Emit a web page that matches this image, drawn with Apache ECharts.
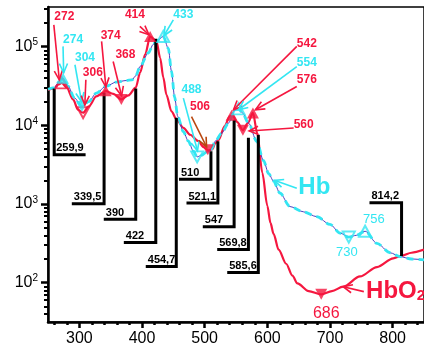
<!DOCTYPE html>
<html>
<head>
<meta charset="utf-8">
<script src="https://cdn.jsdelivr.net/npm/echarts@6/dist/echarts.min.js"></script>
<style>
  html, body { margin: 0; padding: 0; background: #fff; }
  #chart { width: 424px; height: 350px; }
</style>
</head>
<body>
<div id="chart"></div>
<script>
// spectra: wavelength (nm) and extinction
const hbo2Nm = [250, 260, 266, 272, 280, 290, 298, 306, 315, 327, 339, 342, 354, 367, 378, 390, 397, 405, 413, 423,
  429, 434, 439, 447, 455, 466, 477, 490, 498, 506, 512, 517, 522, 532, 540, 544, 552, 561, 569, 577,
  584, 592, 600, 605, 610, 618, 630, 640, 648, 666, 686, 703, 721, 748, 775, 801, 814, 830, 850];
const hbo2Eps = [28200, 29500, 33100, 34700, 30200, 21400, 15800, 14500, 17400, 23400, 26300, 27500, 25100, 21400, 24000, 30200, 46800, 79400, 135000, 117500,
  72400, 40700, 24500, 15100, 12000, 9300, 7600, 6300, 5300, 4800, 4950, 5900, 6500, 9800, 13000, 13500, 11000, 8700, 10700, 14400,
  7900, 2500, 950, 575, 417, 263, 174, 123, 98, 78, 71, 78, 89, 120, 158, 204, 219, 240, 263];

const hbNm = [250, 260, 268, 274, 282, 292, 304, 315, 327, 343, 359, 375, 384, 390, 397, 410, 418, 423, 434, 442,
  447, 452, 457, 466, 474, 482, 488, 495, 503, 510, 517, 527, 538, 548, 554, 560, 570, 583, 594, 602,
  610, 620, 636, 658, 679, 700, 716, 730, 742, 756, 775, 796, 812, 830, 850];
const hbEps = [28800, 30200, 36300, 39800, 31600, 22400, 17400, 20000, 25700, 31600, 35500, 37200, 38000, 42700, 56200, 83200, 107000, 117500, 135000, 95500,
  49000, 23000, 13000, 8300, 6300, 4700, 3980, 4170, 4570, 4900, 6300, 7940, 10700, 15500, 16200, 14500, 10700, 6300, 3550, 2450,
  1950, 1380, 930, 795, 690, 550, 427, 380, 400, 451, 316, 240, 214, 200, 195];

// extrema markers [nm, value]
const hbo2Max = [[342, 27500], [413, 135000], [543, 13500], [577, 14400]];
const hbo2Min = [[367, 21400], [505, 4900], [561, 8700], [686, 71]];
const hbo2OpenMax = [[272, 34700]];
const hbo2OpenMin = [[306, 14500]];
const hbMax = [[274, 39800]];
const hbMin = [[304, 17400]];
const hbOpenMax = [[434, 135000], [554, 16200], [756, 451]];
const hbOpenMin = [[488, 3980], [730, 380]];

// isosbestic points
const isoWl = [259.9, 339.5, 390, 422, 454.7, 510, 521.1, 547, 569.8, 585.6, 814.2];
const isoText = ['259,9', '339,5', '390', '422', '454,7', '510', '521,1', '547', '569,8', '585,6', '814,2'];

// tick values
const xLabels = [300, 400, 500, 600, 700, 800];
const yLabels = [100, 1000, 10000, 100000];

// ---- layout of the annotations (data coordinates) ----
const isoTop = [29500, 26000, 29500, 126000, 12500, 4700, 6300, 11800, 6950, 7600, 218];
const isoBottom = [4240, 1010, 640, 324, 161, 2060, 1030, 515, 264, 135, 1040];
const isoEnd = [310, 288, 339, 371, 406, 459, 471, 497, 520, 536, 763];

const RED = '#f5173f';
const CYAN = '#33e6f2';
const BROWN = '#b8460e';

// [text, text colour, arrow colour, labelX, labelY, startX, startY, tipX, tipY]
const arrowNotes = [
  ['272', RED, RED, 276, 240000, 259.3, 190000, 268, 38000],
  ['274', CYAN, CYAN, 290, 123000, 274, 101000, 275, 46700],
  ['304', CYAN, CYAN, 309, 71800, 293, 59000, 303.5, 20000],
  ['306', RED, RED, 321.6, 46700, 310.4, 38000, 308.8, 18200],
  ['374', RED, RED, 350, 138000, 335.5, 117000, 342.3, 30900],
  ['368', RED, RED, 373.5, 79000, 354, 65000, 367.4, 23800],
  ['414', RED, RED, 388.7, 256000, 396.6, 181000, 411, 142000],
  ['433', CYAN, CYAN, 466, 255000, 450, 219000, 435, 138000],
  ['488', CYAN, CYAN, 479, 28400, 466, 22200, 488.5, 4750],
  ['506', RED, BROWN, 492.5, 17400, 479, 12900, 503, 5350],
  ['542', RED, RED, 663, 109000, 647, 101000, 546, 15800],
  ['554', CYAN, CYAN, 663, 63000, 647, 56000, 554, 15800],
  ['576', RED, RED, 663, 38000, 647, 31200, 581, 15800],
  ['560', RED, RED, 658, 10200, 642, 9250, 571, 8500]
];
// [text, colour, x, y, font]
const plainNotes = [
  ['686', RED, 694, 41, '500 16px "Liberation Sans"'],
  ['730', CYAN, 727, 243, '13px "Liberation Sans"'],
  ['756', CYAN, 770, 631, '13px "Liberation Sans"']
];

const FONT = '"Liberation Sans", Arial, sans-serif';

function arrowHead(s, t, len, color) {
  const ang = Math.atan2(t[1] - s[1], t[0] - s[0]);
  const a1 = ang + Math.PI - 0.42;
  const a2 = ang + Math.PI + 0.42;
  return {
    type: 'polyline',
    shape: { points: [[t[0] + len * Math.cos(a1), t[1] + len * Math.sin(a1)], t, [t[0] + len * Math.cos(a2), t[1] + len * Math.sin(a2)]] },
    style: { stroke: color, lineWidth: 1.6, fill: null }
  };
}

function arrow(s, t, color) {
  return [
    { type: 'line', shape: { x1: s[0], y1: s[1], x2: t[0], y2: t[1] }, style: { stroke: color, lineWidth: 1.6 } },
    arrowHead(s, t, 10, color)
  ];
}

function pairs(xs, ys) {
  return xs.map((x, i) => [x, ys[i]]);
}

function marks(data, color, rotate, hollow) {
  return {
    type: 'scatter',
    data: data,
    symbol: 'triangle',
    symbolSize: [12, 11],
    symbolRotate: rotate,
    itemStyle: hollow
      ? { color: 'rgba(255,255,255,0)', borderColor: color, borderWidth: 2 }
      : { color: color },
    z: 5
  };
}

const chart = echarts.init(document.getElementById('chart'));

const yMinor = [];
[10, 100, 1000, 10000, 100000].forEach(function (d) {
  for (let k = 2; k <= 9; k++) {
    if (d * k > 31.6 && d * k < 320000) yMinor.push(d * k);
  }
});
const xMinor = [];
for (let v = 260; v <= 840; v += 20) {
  if (v % 100 !== 0) xMinor.push(v);
}

chart.setOption({
  animation: false,
  backgroundColor: '#fff',
  grid: { left: 48, right: 0, top: 7, bottom: 28, show: true, borderColor: '#000', borderWidth: 1.5 },
  xAxis: [{
    type: 'value', min: 250, max: 850,
    splitLine: { show: false },
    axisLine: { lineStyle: { color: '#000', width: 2.5 } },
    axisTick: { customValues: xLabels, length: 6, lineStyle: { color: '#000', width: 2.5 } },
    axisLabel: { customValues: xLabels, color: '#000', fontSize: 16, fontFamily: FONT, margin: 9 }
  }, {
    type: 'value', min: 250, max: 850, position: 'bottom',
    splitLine: { show: false },
    axisLine: { show: false },
    axisTick: { customValues: xMinor, length: 3, lineStyle: { color: '#000', width: 2.5 } },
    axisLabel: { show: false }
  }],
  yAxis: [{
    type: 'log', min: 31.62, max: 320000,
    splitLine: { show: false },
    axisLine: { lineStyle: { color: '#000', width: 2.5 } },
    axisTick: { customValues: yLabels, length: 7, lineStyle: { color: '#000', width: 2.5 } },
    axisLabel: {
      customValues: yLabels, margin: 10,
      formatter: function (v) {
        const e = Math.round(Math.log10(v));
        return '{n|10}{s|' + e + '}';
      },
      rich: {
        n: { fontSize: 16, fontFamily: FONT, color: '#000', lineHeight: 18 },
        s: { fontSize: 10, fontFamily: FONT, color: '#000', verticalAlign: 'top', lineHeight: 10 }
      }
    }
  }, {
    type: 'log', min: 31.62, max: 320000, position: 'left',
    splitLine: { show: false },
    axisLine: { show: false },
    axisTick: { customValues: yMinor, length: 4, lineStyle: { color: '#000', width: 2 } },
    axisLabel: { show: false }
  }],
  series: [
    {
      name: 'HbO2', type: 'line', data: pairs(hbo2Nm, hbo2Eps),
      smooth: 0.3, smoothMonotone: 'x', showSymbol: false,
      lineStyle: { color: RED, width: 2.2 }, z: 2
    },
    {
      name: 'Hb-core', type: 'line', data: pairs(hbNm, hbEps),
      smooth: 0.3, smoothMonotone: 'x', showSymbol: false,
      lineStyle: { color: '#4a3fc0', width: 1 }, z: 3
    },
    {
      name: 'Hb', type: 'line', data: pairs(hbNm, hbEps),
      smooth: 0.3, smoothMonotone: 'x', showSymbol: false,
      lineStyle: { color: CYAN, width: 2.8, type: [7, 5] }, z: 3
    },
    {
      type: 'custom', z: 4,
      data: isoWl.map((w, i) => [w, isoTop[i]]),
      renderItem: function (params, api) {
        const i = params.dataIndex;
        const a = api.coord([isoWl[i], isoTop[i]]);
        const b = api.coord([isoWl[i], isoBottom[i]]);
        const c = api.coord([isoEnd[i], isoBottom[i]]);
        const left = Math.min(b[0], c[0]);
        return {
          type: 'group',
          children: [
            { type: 'polyline', shape: { points: [a, b, c] }, style: { stroke: '#000', lineWidth: 3, fill: null } },
            { type: 'text', style: { text: isoText[i], x: left + 2, y: b[1] - 1, align: 'left', verticalAlign: 'bottom',
              font: 'bold 11px ' + FONT, fill: '#000' } }
          ]
        };
      }
    },
    marks(hbo2Max, RED, 0, false),
    marks(hbo2Min, RED, 180, false),
    marks(hbo2OpenMax, RED, 0, true),
    marks(hbo2OpenMin, RED, 180, true),
    marks(hbMax, CYAN, 0, false),
    marks(hbMin, CYAN, 180, false),
    marks(hbOpenMax, CYAN, 0, true),
    marks(hbOpenMin, CYAN, 180, true),
    {
      type: 'custom', z: 6,
      data: arrowNotes.map(n => [n[3], n[4]]),
      renderItem: function (params, api) {
        const n = arrowNotes[params.dataIndex];
        const p = api.coord([n[3], n[4]]);
        const s = api.coord([n[5], n[6]]);
        const t = api.coord([n[7], n[8]]);
        return {
          type: 'group',
          children: arrow(s, t, n[2]).concat([{
            type: 'text',
            style: { text: n[0], x: p[0], y: p[1], align: 'center', verticalAlign: 'middle', font: 'bold 12px ' + FONT, fill: n[1] }
          }])
        };
      }
    },
    {
      type: 'custom', z: 6,
      data: plainNotes.map(n => [n[2], n[3]]),
      renderItem: function (params, api) {
        const n = plainNotes[params.dataIndex];
        const p = api.coord([n[2], n[3]]);
        return {
          type: 'text',
          style: { text: n[0], x: p[0], y: p[1], align: 'center', verticalAlign: 'middle', font: n[4], fill: n[1] }
        };
      }
    },
    {
      // curve names
      type: 'custom', z: 6,
      data: [[675, 1610], [756, 78]],
      renderItem: function (params, api) {
        if (params.dataIndex === 0) {
          const p = api.coord([675, 1610]);
          return {
            type: 'group',
            children: arrow(api.coord([647, 1590]), api.coord([611, 2000]), CYAN).concat([{
              type: 'text',
              style: { text: 'Hb', x: p[0], y: p[1], align: 'center', verticalAlign: 'middle', font: 'bold 24px ' + FONT, fill: CYAN }
            }])
          };
        }
        const q = api.coord([756, 78]);
        return {
          type: 'group',
          children: arrow(api.coord([754, 77]), api.coord([721, 89]), RED).concat([{
            type: 'text',
            style: {
              text: '{b|HbO}{s|2}', x: q[0] + 1, y: q[1], align: 'left', verticalAlign: 'middle',
              rich: {
                b: { fontSize: 24, fontWeight: 'bold', fontFamily: FONT, fill: RED },
                s: { fontSize: 15, fontWeight: 'bold', fontFamily: FONT, fill: RED, verticalAlign: 'bottom', padding: [8, 0, 0, 0] }
              }
            }
          }])
        };
      }
    }
  ]
});
</script>
</body>
</html>
